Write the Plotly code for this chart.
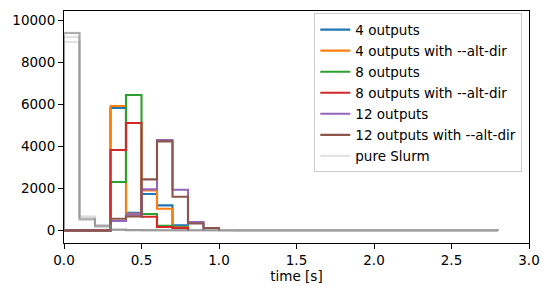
import plotly.graph_objects as go

# bin edges (s)
bin_edges = [0.0, 0.1, 0.2, 0.3, 0.4, 0.5, 0.6, 0.7, 0.8, 0.9, 1.0,
             1.1, 1.2, 1.3, 1.4, 1.5, 1.6, 1.7, 1.8, 1.9, 2.0,
             2.1, 2.2, 2.3, 2.4, 2.5, 2.6, 2.7, 2.8]

# histogram counts per bin
out4 = [0, 0, 0, 5825, 841, 1730, 1190, 238]
out4_alt = [0, 0, 0, 5919, 794, 1905, 1032, 159]
out8 = [0, 0, 0, 2302, 6444, 778, 222, 130]
out8_alt = [0, 0, 0, 3825, 5111, 651, 160, 111]
out12 = [0, 0, 0, 444, 762, 1952, 4302, 1937, 397]
out12_alt = [0, 0, 0, 556, 667, 2429, 4238, 1600, 330, 111]

slurm_run1 = [9395, 524, 190, 30, 15, 10, 8, 6, 5, 4, 4, 3, 3, 2, 2, 2, 2, 1, 1, 1, 1, 1, 1, 1, 1, 1, 1, 1]
slurm_run2 = [9390, 530, 195, 28, 14, 10, 7, 6, 5, 4, 3, 3, 3, 2, 2, 2, 1, 1, 1, 1, 1, 1, 1, 1, 1, 1, 1, 1]
slurm_run3 = [9400, 520, 188, 32, 16, 11, 8, 6, 5, 4, 4, 3, 2, 2, 2, 2, 2, 1, 1, 1, 1, 1, 1, 1, 1, 1, 1, 1]
slurm_run4 = [9385, 528, 192, 29, 15, 9, 8, 6, 4, 4, 3, 3, 3, 2, 2, 1, 1, 1, 1, 1, 1, 1, 1, 1, 1, 1, 1, 1]
slurm_run5 = [9205, 667, 254, 35, 16, 10, 8, 6, 5, 4, 3, 3, 2, 2, 2, 2, 1, 1, 1, 1, 1, 1, 1, 1, 1, 1, 1, 1]
slurm_run6 = [8967, 603, 240, 33, 15, 11, 8, 6, 5, 4, 3, 3, 2, 2, 2, 1, 1, 1, 1, 1, 1, 1, 1, 1, 1, 1, 1, 1]

series = [
    ("4 outputs", out4, "#1f77b4"),
    ("4 outputs with --alt-dir", out4_alt, "#ff7f0e"),
    ("8 outputs", out8, "#2ca02c"),
    ("8 outputs with --alt-dir", out8_alt, "#d62728"),
    ("12 outputs", out12, "#9467bd"),
    ("12 outputs with --alt-dir", out12_alt, "#8c564b"),
]
slurm_runs = [slurm_run1, slurm_run2, slurm_run3, slurm_run4, slurm_run5, slurm_run6]


def step_xy(counts):
    edges = bin_edges[:len(counts) + 1]
    xs = [edges[0]] + edges
    ys = [0] + list(counts) + [0]
    return xs, ys


FONT = "DejaVu Sans"
fig = go.Figure()
for name, counts, color in series:
    xs, ys = step_xy(counts)
    fig.add_trace(go.Scatter(x=xs, y=ys, mode="lines", line=dict(shape="hv", color=color, width=2.1),
                             name=name, legendgroup=name))
for i, run in enumerate(slurm_runs):
    xs, ys = step_xy(run)
    fig.add_trace(go.Scatter(x=xs, y=ys, mode="lines",
                             line=dict(shape="hv", color="rgba(128,128,128,0.22)", width=2.1),
                             name="pure Slurm", legendgroup="slurm", showlegend=(i == 0)))

axis_common = dict(showline=True, mirror=True, linecolor="black", linewidth=1.1,
                   ticks="outside", ticklen=5, tickwidth=1.1, tickcolor="black",
                   showgrid=False, zeroline=False, automargin=False,
                   tickfont=dict(family=FONT, size=13.5, color="black"))

fig.update_layout(
    width=549, height=294,
    margin=dict(l=64, r=20, t=11, b=51),
    paper_bgcolor="white", plot_bgcolor="white",
    font=dict(family=FONT, size=13.5, color="black"),
    xaxis=dict(range=[0, 3], tickvals=[0, 0.5, 1.0, 1.5, 2.0, 2.5, 3.0],
               ticktext=["0.0", "0.5", "1.0", "1.5", "2.0", "2.5", "3.0"],
               title=dict(text="time [s]", standoff=2, font=dict(family=FONT, size=13.5)),
               **axis_common),
    yaxis=dict(range=[-600, 10440], tickvals=[0, 2000, 4000, 6000, 8000, 10000],
               ticktext=["0", "2000", "4000", "6000", "8000", "10000"], **axis_common),
    legend=dict(x=0.9856, y=0.99, xanchor="right", yanchor="top",
                bgcolor="rgba(255,255,255,0.8)", bordercolor="#cccccc", borderwidth=1,
                tracegroupgap=0.5, font=dict(family=FONT, size=13.5)),
    showlegend=True,
)

fig.write_html("out.html", config={"displayModeBar": False},
               post_script="document.body.style.margin='0';document.body.style.padding='0';")
